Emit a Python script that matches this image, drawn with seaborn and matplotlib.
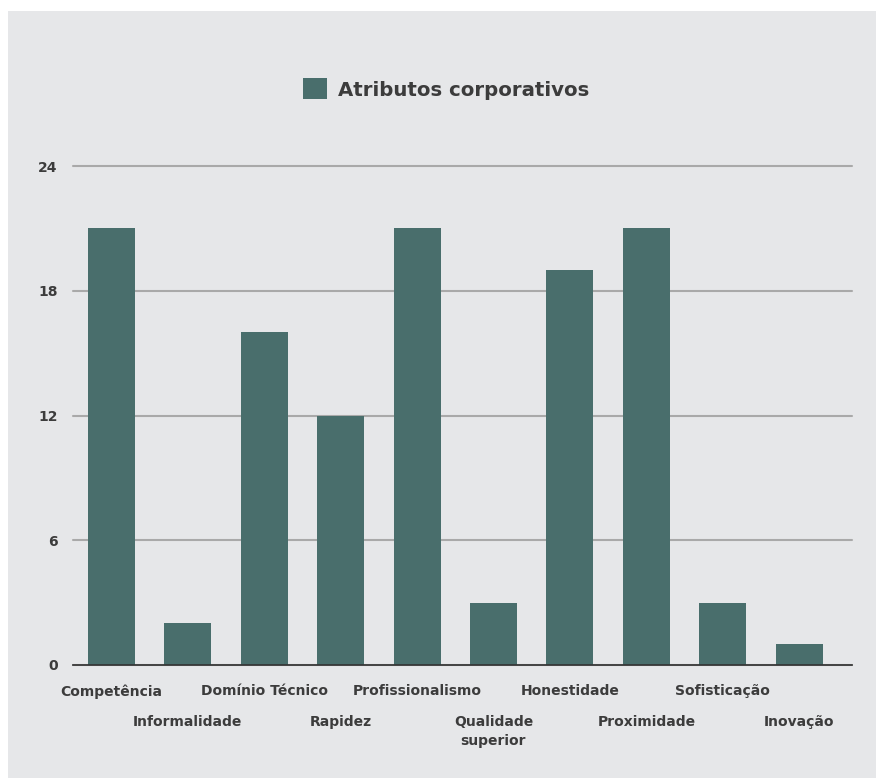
import matplotlib
matplotlib.use('Agg')
import matplotlib.pyplot as plt
import seaborn as sns
from matplotlib.patches import Rectangle, Patch

# data
categories = ['Competência', 'Informalidade', 'Domínio Técnico', 'Rapidez',
              'Profissionalismo', 'Qualidade\nsuperior', 'Honestidade',
              'Proximidade', 'Sofisticação', 'Inovação']
values = [21, 2, 16, 12, 21, 3, 19, 21, 3, 1]
y_ticks = [0, 6, 12, 18, 24]
series_name = 'Atributos corporativos'

bar_color = '#496e6c'
bg = '#e6e7e9'
text_color = '#3c3c3c'

sns.set_theme(style='white')
plt.rcParams['font.family'] = ['DejaVu Sans']
plt.rcParams['font.weight'] = 'bold'

fig = plt.figure(figsize=(8.76, 7.78), dpi=100)
fig.patch.set_facecolor('white')
# gray panel with a thin white strip on the top and left
fig.patches.append(Rectangle((8 / 876, 0), 1, 1 - 11 / 778, transform=fig.transFigure,
                             facecolor=bg, edgecolor='none', zorder=-1))

ax = fig.add_axes([73 / 876, 1 - 665 / 778, (852 - 73) / 876, (665 - 166) / 778])
ax.set_facecolor('none')

sns.barplot(x=categories, y=values, color=bar_color, width=0.615, saturation=1,
            linewidth=0, ax=ax, zorder=3)

ax.set_ylim(0, 24)
ax.set_xlim(-0.5, 9.69)
ax.set_yticks(y_ticks)
ax.set_yticklabels([str(t) for t in y_ticks], fontsize=10, fontweight='bold', color=text_color)
ax.yaxis.grid(True, color='#a9a9a9', linewidth=1.5, zorder=0)
for gl in ax.get_ygridlines():
    gl.set_clip_on(False)
ax.set_axisbelow(True)
for s in ['top', 'right', 'left']:
    ax.spines[s].set_visible(False)
ax.spines['bottom'].set_color('#333333')
ax.spines['bottom'].set_linewidth(1.2)
ax.spines['bottom'].set_zorder(4)
ax.tick_params(axis='both', length=0)
ax.tick_params(axis='y', pad=11)
ax.set_xlabel('')
ax.set_ylabel('')

ax.set_xticks(range(len(categories)))
ax.set_xticklabels(categories, fontsize=10, fontweight='bold', color=text_color,
                   linespacing=1.45, va='top')
for i, tick in enumerate(ax.xaxis.get_major_ticks()):
    tick.set_pad(14 if i % 2 == 0 else 36)

handle = Patch(facecolor=bar_color, edgecolor='none')
fig.legend([handle], [series_name], loc='center', bbox_to_anchor=(446 / 876, 1 - 89 / 778),
           frameon=False, prop={'size': 14.2, 'weight': 'bold'}, labelcolor=text_color,
           handlelength=1.25, handleheight=1.25, handletextpad=0.55)

fig.savefig('out.png', dpi=100, facecolor=fig.get_facecolor())
